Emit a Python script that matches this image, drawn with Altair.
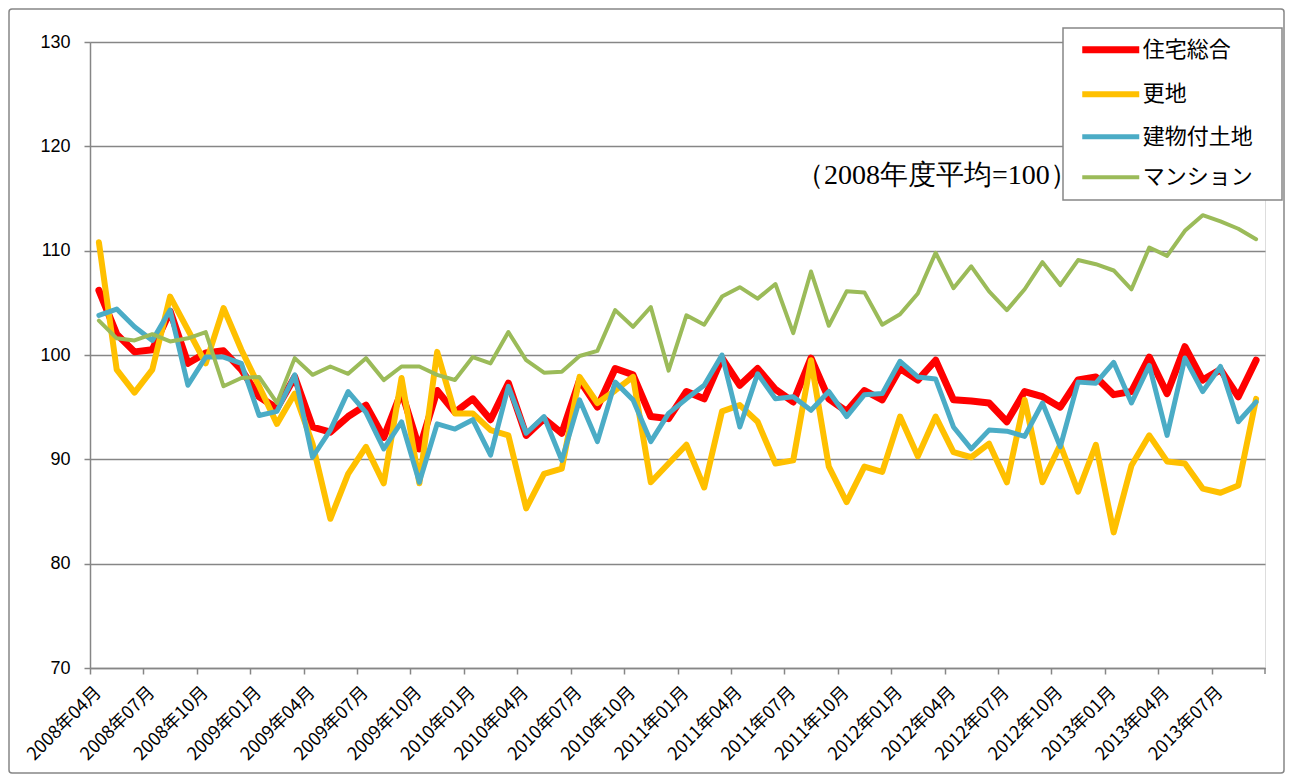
import altair as alt
import pandas as pd

# ---- categories ----
years_months = [(2008 + (m + 3) // 12, (m + 3) % 12 + 1) for m in range(66)]
months = [f"{y}年{mo:02d}月" for y, mo in years_months]
tick_labels = months[::3]

series = ["住宅総合", "更地", "建物付土地", "マンション"]
colors = ["#FF0000", "#FFC000", "#4BACC6", "#9BBB59"]
widths = [7, 4, 4, 4]

# ---- values ----
housing_total = [106.2, 102.0, 100.3, 100.5, 104.2, 99.2, 100.2, 100.4, 98.6, 96.0, 94.9, 97.9, 93.1,
                 92.6, 94.1, 95.2, 92.1, 96.5, 91.0, 96.6, 94.5, 95.8, 93.8, 97.3, 92.3, 93.9,
                 92.5, 97.6, 95.0, 98.7, 98.1, 94.1, 93.9, 96.5, 95.8, 99.7, 97.1, 98.7, 96.7,
                 95.5, 99.7, 95.8, 94.6, 96.6, 95.7, 98.7, 97.6, 99.5, 95.7, 95.6, 95.4, 93.6,
                 96.5, 96.0, 95.0, 97.6, 97.9, 96.2, 96.5, 99.8, 96.3, 100.8, 97.6, 98.6, 96.0, 99.5]
land = [110.8, 98.6, 96.4, 98.6, 105.6, 102.4, 99.2, 104.5, 100.5, 97.0, 93.4, 96.3, 91.5,
        84.3, 88.6, 91.2, 87.7, 97.8, 87.7, 100.3, 94.4, 94.4, 92.8, 92.3, 85.3, 88.6,
        89.1, 97.9, 95.4, 96.6, 97.9, 87.8, 89.6, 91.4, 87.3, 94.6, 95.2, 93.6, 89.6,
        89.9, 99.5, 89.3, 85.9, 89.3, 88.8, 94.1, 90.3, 94.1, 90.7, 90.2, 91.5, 87.8,
        95.7, 87.8, 91.4, 86.9, 91.4, 83.0, 89.4, 92.3, 89.8, 89.6, 87.2, 86.8, 87.5, 95.8]
land_building = [103.8, 104.4, 102.7, 101.4, 104.3, 97.1, 99.8, 99.8, 99.2, 94.2, 94.6, 98.1, 90.2,
                 92.8, 96.5, 94.5, 91.0, 93.6, 87.8, 93.4, 92.9, 93.8, 90.4, 97.0, 92.5, 94.1,
                 89.9, 95.7, 91.7, 97.4, 95.7, 91.7, 94.4, 95.8, 97.1, 100.0, 93.1, 98.2, 95.8,
                 96.0, 94.7, 96.5, 94.1, 96.2, 96.3, 99.4, 97.9, 97.7, 93.1, 91.0, 92.8, 92.7,
                 92.2, 95.4, 91.2, 97.4, 97.3, 99.3, 95.4, 99.0, 92.3, 99.7, 96.5, 98.9, 93.6, 95.5]
condo = [103.3, 101.6, 101.4, 102.0, 101.3, 101.6, 102.2, 97.0, 97.8, 97.9, 95.4, 99.7, 98.1,
         98.9, 98.2, 99.7, 97.6, 98.9, 98.9, 98.1, 97.6, 99.8, 99.2, 102.2, 99.5, 98.3,
         98.4, 99.9, 100.4, 104.3, 102.7, 104.6, 98.5, 103.8, 102.9, 105.6, 106.5, 105.4, 106.8,
         102.1, 108.0, 102.8, 106.1, 106.0, 102.9, 103.9, 105.9, 109.8, 106.4, 108.5, 106.1, 104.3,
         106.3, 108.9, 106.7, 109.1, 108.7, 108.1, 106.3, 110.3, 109.5, 111.9, 113.4, 112.8, 112.1, 111.1]

y_ticks = [70, 80, 90, 100, 110, 120, 130]
note = "（2008年度平均=100）"

rows = []
for name, vals in zip(series, [housing_total, land, land_building, condo]):
    for m, v in zip(months, vals):
        rows.append({"month": m, "series": name, "value": v})
df = pd.DataFrame(rows)

W, H = 1175, 626
GRAY = "#868686"
half_step = W / len(months) / 2

x_axis = alt.Axis(values=tick_labels, labelAngle=-45, labelFont="Noto Sans CJK JP",
                  labelFontSize=18, labelColor="black", tickOffset=-half_step,
                  labelOffset=half_step - 7, tickSize=6, tickColor=GRAY, tickWidth=1.5,
                  domainColor=GRAY, domainWidth=1.5, grid=False, title=None,
                  labelPadding=9, labelOverlap=False)
y_axis = alt.Axis(values=y_ticks, grid=True, gridColor=GRAY, gridWidth=1.5,
                  domainColor=GRAY, domainWidth=1.5, tickColor=GRAY, tickWidth=1.5,
                  tickSize=6, labelFont="Liberation Sans", labelFontSize=18,
                  labelColor="black", labelPadding=14, title=None)
sym = 28.5
legend = alt.Legend(orient="none", legendX=993, legendY=-10.25, padding=0,
                    symbolType="M-2,0H2", symbolSize=sym * sym, symbolOffset=9.75,
                    labelFont="Noto Sans CJK JP", labelFontSize=22,
                    labelColor="black", labelOffset=14, rowPadding=13,
                    labelLimit=300)

base = alt.Chart(df)
layers = []
for s in series:
    layers.append(
        base.transform_filter(alt.datum.series == s)
        .mark_line(strokeJoin="round", strokeCap="round")
        .encode(
            x=alt.X("month:O", sort=months, scale=alt.Scale(type="point", padding=0.5), axis=x_axis),
            y=alt.Y("value:Q", scale=alt.Scale(domain=[70, 130], nice=False, zero=False), axis=y_axis),
            color=alt.Color("series:N", scale=alt.Scale(domain=series, range=colors), legend=legend, title=None),
            strokeWidth=alt.StrokeWidth("series:N", scale=alt.Scale(domain=series, range=widths), legend=legend, title=None),
        )
    )

one = pd.DataFrame({"t": [note]})
frame = alt.Chart(one).mark_rect(fill="transparent", stroke=GRAY, strokeWidth=1.5, cornerRadius=3).encode(
    x=alt.value(-81), x2=alt.value(1194), y=alt.value(-33), y2=alt.value(731))
legend_box = alt.Chart(one).mark_rect(fill="white", stroke=GRAY, strokeWidth=1.5).encode(
    x=alt.value(973), x2=alt.value(1192), y=alt.value(-14), y2=alt.value(158))
end_tick = alt.Chart(one).mark_rule(color=GRAY, strokeWidth=1.5).encode(
    x=alt.value(W), y=alt.value(H), y2=alt.value(H + 6))
text = alt.Chart(one).mark_text(align="left", baseline="middle", font="Liberation Serif",
                                fontSize=28, color="black").encode(
    x=alt.value(706), y=alt.value(134), text="t:N")

chart = alt.layer(frame, end_tick, text, *layers, legend_box).properties(
    width=W, height=H, autosize="none",
    padding={"left": 82, "top": 34, "right": 20, "bottom": 106},
).configure_view(strokeWidth=0).configure(background="white")

chart.save("out.html", embed_options={"renderer": "svg", "actions": False})
